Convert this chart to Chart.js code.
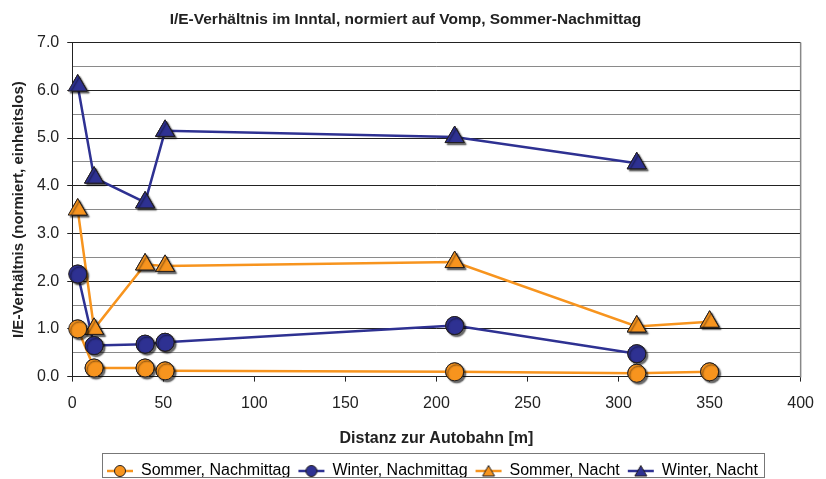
<!DOCTYPE html>
<html>
<head>
<meta charset="utf-8">
<script src="https://cdn.jsdelivr.net/npm/chart.js@4/dist/chart.umd.min.js"></script>
<style>
  body{margin:0;background:#fff;}
  #wrap{width:826px;height:479px;}
</style>
</head>
<body>
<div id="wrap"><canvas id="chart"></canvas></div>
<script>
// ====== DATA ======
const chartTitle = 'I/E-Verhältnis im Inntal, normiert auf Vomp, Sommer-Nachmittag';
const xTitle = 'Distanz zur Autobahn [m]';
const yTitle = 'I/E-Verhältnis (normiert, einheitslos)';

const seriesNames = ['Sommer, Nachmittag', 'Winter, Nachmittag', 'Sommer, Nacht', 'Winter, Nacht'];

const distSommer = [3, 12, 40, 51, 210, 310, 350];
const distWinter = [3, 12, 40, 51, 210, 310];

const sommerNachmittag = [1.0, 0.18, 0.18, 0.12, 0.10, 0.07, 0.10];
const winterNachmittag = [2.15, 0.65, 0.68, 0.72, 1.07, 0.48];
const sommerNacht = [3.5, 1.0, 2.35, 2.32, 2.40, 1.05, 1.15];
const winterNacht = [6.1, 4.17, 3.65, 5.15, 5.02, 4.47];

// ====== STYLE ======
const ORANGE = '#F7941E';
const BLUE = '#2E3192';
const EDGE = '#231F20';
const SANS = '"Liberation Sans", Arial, sans-serif';

function pts(xs, ys){ return xs.map((x,i)=>({x, y:ys[i]})); }

function makeSeries(label, xs, ys, color, style){
  const r = style==='circle' ? 9 : 11;
  return {
    label,
    data: pts(xs, ys),
    borderColor: color,
    backgroundColor: color,
    borderWidth: 2.5,
    pointStyle: style,
    pointRadius: r,
    pointHoverRadius: r,
    pointBorderColor: EDGE,
    pointBorderWidth: 1,
    tension: 0,
    fill: false
  };
}

// small legend icon: line with marker in the middle
function legendIcon(color, style){
  const c = document.createElement('canvas');
  c.width = 28; c.height = 14;
  const g = c.getContext('2d');
  g.strokeStyle = color; g.lineWidth = 2.5;
  g.beginPath(); g.moveTo(1,7); g.lineTo(27,7); g.stroke();
  g.fillStyle = color; g.strokeStyle = EDGE; g.lineWidth = 1;
  g.beginPath();
  if(style==='circle'){ g.arc(14,7,5.5,0,Math.PI*2); }
  else { g.moveTo(14,1.5); g.lineTo(20,12); g.lineTo(8,12); g.closePath(); }
  g.fill(); g.stroke();
  return c;
}

const datasets = [
  makeSeries(seriesNames[0], distSommer, sommerNachmittag, ORANGE, 'circle'),
  makeSeries(seriesNames[1], distWinter, winterNachmittag, BLUE, 'circle'),
  makeSeries(seriesNames[2], distSommer, sommerNacht, ORANGE, 'triangle'),
  makeSeries(seriesNames[3], distWinter, winterNacht, BLUE, 'triangle')
];

// ====== PLUGINS ======
// redraw the library's point elements with a drop shadow (lines stay clean)
const markerShadow = {
  id: 'markerShadow',
  afterDatasetsDraw(chart){
    const ctx = chart.ctx;
    ctx.save();
    ctx.shadowColor = 'rgba(0,0,0,0.6)';
    ctx.shadowOffsetX = 2;
    ctx.shadowOffsetY = 2;
    ctx.shadowBlur = 1.5;
    for(let i = chart.data.datasets.length - 1; i >= 0; i--){
      const meta = chart.getDatasetMeta(i);
      if(meta.hidden) continue;
      meta.data.forEach(el => el.draw(ctx, chart.chartArea));
    }
    ctx.restore();
  }
};

// right frame line of the plot area
const plotFrame = {
  id: 'plotFrame',
  beforeDatasetsDraw(chart){
    const {ctx, chartArea:a} = chart;
    ctx.save();
    ctx.strokeStyle = '#888';
    ctx.lineWidth = 1.5;
    ctx.beginPath();
    ctx.moveTo(a.right, a.top);
    ctx.lineTo(a.right, a.bottom + 1);
    ctx.stroke();
    ctx.restore();
  }
};

// move legend so it starts where the reference starts, then frame it
const LEGEND_START = 107;
const legendBox = {
  id: 'legendBox',
  afterLayout(chart){
    const lg = chart.legend;
    if(!lg) return;
    const pad = lg.options.labels.padding;
    const shift = LEGEND_START - (lg.left + pad);
    lg.left += shift; lg.right += shift;
  },
  afterDraw(chart){
    const lg = chart.legend;
    if(!lg || !lg.lineWidths) return;
    const pad = lg.options.labels.padding;
    const l = LEGEND_START - 5;
    const r = LEGEND_START + lg.lineWidths[0] - pad + 6;
    const t = lg.top + pad - 10;
    const b = t + 24;
    const ctx = chart.ctx;
    ctx.save();
    ctx.strokeStyle = '#777';
    ctx.lineWidth = 1;
    ctx.strokeRect(Math.round(l)+0.5, Math.round(t)+0.5, Math.round(r-l), Math.round(b-t));
    ctx.restore();
  }
};

// ====== CHART ======
new Chart(document.getElementById('chart'), {
  type: 'line',
  data: { datasets },
  plugins: [plotFrame, markerShadow, legendBox],
  options: {
    responsive: true,
    maintainAspectRatio: false,
    animation: false,
    layout: { padding: { left: 10, right: 25, top: 0, bottom: -10 } },
    plugins: {
      title: {
        display: true,
        text: chartTitle,
        color: '#222',
        font: { family: SANS, size: 15.5, weight: 'bold' },
        padding: { top: 10, bottom: 14 }
      },
      legend: {
        position: 'bottom',
        align: 'start',
        labels: {
          usePointStyle: true,
          pointStyleWidth: 26,
          boxHeight: 14,
          color: '#222',
          font: { family: SANS, size: 16 },
          padding: 8,
          generateLabels(chart){
            return chart.data.datasets.map((ds,i)=>({
              text: ds.label,
              pointStyle: legendIcon(ds.borderColor, ds.pointStyle),
              fillStyle: ds.borderColor,
              strokeStyle: ds.borderColor,
              lineWidth: 0,
              hidden: !chart.isDatasetVisible(i),
              datasetIndex: i
            }));
          }
        }
      },
      tooltip: { enabled: false }
    },
    scales: {
      x: {
        type: 'linear',
        min: 0, max: 400,
        ticks: { stepSize: 50, color: '#222', font: { family: SANS, size: 16 }, padding: 12 },
        grid: {
          drawOnChartArea: false,
          tickLength: 5,
          tickColor: '#222'
        },
        border: { color: '#222', width: 1 },
        title: {
          display: true,
          text: xTitle,
          color: '#222',
          font: { family: SANS, size: 16, weight: 'bold' },
          padding: { top: 4, bottom: 7 }
        }
      },
      y: {
        min: 0, max: 7,
        ticks: {
          stepSize: 0.5,
          color: '#222',
          font: { family: SANS, size: 16 },
          padding: 8,
          callback: v => (Math.abs(v % 1) < 1e-9 ? v.toFixed(1) : '')
        },
        grid: {
          color: c => (Math.abs(c.tick.value % 1) < 1e-9 ? '#222' : '#8a8a8a'),
          lineWidth: 1,
          tickLength: 5,
          tickColor: c => (Math.abs(c.tick.value % 1) < 1e-9 ? '#222' : 'rgba(0,0,0,0)')
        },
        border: { color: '#222', width: 1 },
        title: {
          display: true,
          text: yTitle,
          color: '#222',
          font: { family: SANS, size: 15, weight: 'bold' },
          padding: { top: 0, bottom: 1 }
        }
      }
    }
  }
});
</script>
</body>
</html>
